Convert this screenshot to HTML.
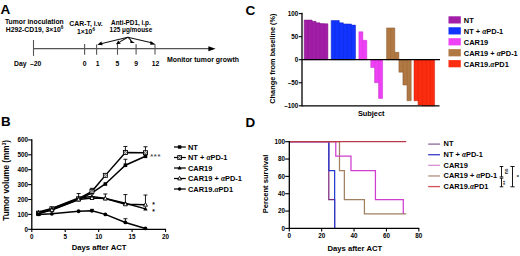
<!DOCTYPE html>
<html><head><meta charset="utf-8"><style>
html,body{margin:0;padding:0;background:#fff;}
body{width:520px;height:256px;overflow:hidden;}
svg{display:block;font-family:"Liberation Sans", sans-serif;}
</style></head><body>
<svg width="520" height="256" viewBox="0 0 520 256" font-family='"Liberation Sans", sans-serif' fill="#000">
<rect width="520" height="256" fill="#fff"/>
<text x="0.4" y="14.2" font-size="13.6" text-anchor="start" font-weight="bold" >A</text>
<text x="0.9" y="126.3" font-size="13.4" text-anchor="start" font-weight="bold" >B</text>
<text x="245.4" y="14.6" font-size="13.6" text-anchor="start" font-weight="bold" >C</text>
<text x="245.4" y="126.5" font-size="13.4" text-anchor="start" font-weight="bold" >D</text>
<text x="34.3" y="24.4" font-size="6.8" text-anchor="middle" font-weight="bold" >Tumor inoculation</text>
<text x="34.6" y="31.9" font-size="6.8" text-anchor="middle" font-weight="bold" >H292-CD19, 3×10<tspan font-size="4.6" dy="-2.5">6</tspan></text>
<text x="86.0" y="25.9" font-size="6.9" text-anchor="middle" font-weight="bold" >CAR-T, i.v.</text>
<text x="86.0" y="33.6" font-size="6.8" text-anchor="middle" font-weight="bold" >1×10<tspan font-size="4.6" dy="-2.5">6</tspan></text>
<text x="130.9" y="24.5" font-size="6.4" text-anchor="middle" font-weight="bold" >Anti-PD1, i.p.</text>
<text x="130.9" y="32.1" font-size="6.4" text-anchor="middle" font-weight="bold" >125 μg/mouse</text>
<line x1="33.5" y1="48.6" x2="210" y2="48.6" stroke="#555" stroke-width="1.3" />
<polygon points="208.4,46.3 215.6,48.8 208.4,51.3" fill="#000"/>
<line x1="33.5" y1="40.0" x2="33.5" y2="55.9" stroke="#555" stroke-width="1.1" />
<line x1="84.6" y1="44.0" x2="84.6" y2="54.8" stroke="#555" stroke-width="1.1" />
<line x1="96.6" y1="44.4" x2="96.6" y2="54.8" stroke="#555" stroke-width="1.1" />
<line x1="117.5" y1="43.4" x2="117.5" y2="54.8" stroke="#555" stroke-width="1.1" />
<line x1="136.1" y1="44.3" x2="136.1" y2="54.6" stroke="#555" stroke-width="1.1" />
<line x1="155.0" y1="44.4" x2="155.0" y2="54.6" stroke="#555" stroke-width="1.1" />
<line x1="127.8" y1="37.2" x2="101.9" y2="43.5" stroke="#111" stroke-width="1.1" />
<line x1="127.8" y1="37.2" x2="119.8" y2="41.9" stroke="#111" stroke-width="1.1" />
<line x1="127.8" y1="37.2" x2="131.3" y2="40.7" stroke="#111" stroke-width="1.1" />
<line x1="127.8" y1="37.2" x2="151.5" y2="42.8" stroke="#111" stroke-width="1.1" />
<polygon points="97.3,44.8 101.3,41.5 102.7,45.3" fill="#000"/>
<polygon points="115.9,44.3 118.4,40.5 120.8,43.8" fill="#000"/>
<polygon points="130.1,39.7 130.5,42.9 134.8,42.9" fill="#000"/>
<polygon points="150.5,41.0 150.2,44.7 155.7,44.4" fill="#000"/>
<text x="26.5" y="66.2" font-size="6.8" text-anchor="end" font-weight="bold" >Day</text>
<text x="30.0" y="66.2" font-size="6.8" text-anchor="start" font-weight="bold" >–20</text>
<text x="84.65" y="66.2" font-size="6.8" text-anchor="middle" font-weight="bold" >0</text>
<text x="97.6" y="66.2" font-size="6.8" text-anchor="middle" font-weight="bold" >1</text>
<text x="117.5" y="66.2" font-size="6.8" text-anchor="middle" font-weight="bold" >5</text>
<text x="136.2" y="66.2" font-size="6.8" text-anchor="middle" font-weight="bold" >9</text>
<text x="155.6" y="66.2" font-size="6.8" text-anchor="middle" font-weight="bold" >12</text>
<text x="166.9" y="62.1" font-size="6.95" text-anchor="start" font-weight="bold" >Monitor tumor growth</text>
<line x1="302.0" y1="12.8" x2="302.0" y2="106.4" stroke="#000" stroke-width="1.3" />
<line x1="298.8" y1="13.600000000000001" x2="302.0" y2="13.600000000000001" stroke="#000" stroke-width="1.1" />
<text x="298.3" y="15.900000000000002" font-size="6.3" text-anchor="end" font-weight="bold" >100</text>
<line x1="298.8" y1="36.650000000000006" x2="302.0" y2="36.650000000000006" stroke="#000" stroke-width="1.1" />
<text x="298.3" y="38.95" font-size="6.3" text-anchor="end" font-weight="bold" >50</text>
<line x1="298.8" y1="59.7" x2="302.0" y2="59.7" stroke="#000" stroke-width="1.1" />
<text x="298.3" y="62.0" font-size="6.3" text-anchor="end" font-weight="bold" >0</text>
<line x1="298.8" y1="82.75" x2="302.0" y2="82.75" stroke="#000" stroke-width="1.1" />
<text x="298.3" y="85.05" font-size="6.3" text-anchor="end" font-weight="bold" >–50</text>
<line x1="298.8" y1="105.80000000000001" x2="302.0" y2="105.80000000000001" stroke="#000" stroke-width="1.1" />
<text x="298.3" y="108.10000000000001" font-size="6.3" text-anchor="end" font-weight="bold" >–100</text>
<polygon points="304.20,59.70 304.20,20.05 308.15,20.05 308.15,20.05 312.10,20.05 312.10,21.30 316.05,21.30 316.05,22.82 320.00,22.82 320.00,23.56 323.95,23.56 323.95,23.74 327.90,23.74 327.90,59.70" fill="#a21ea6" stroke="#7a1080" stroke-width="0.5" stroke-linejoin="miter"/>
<line x1="308.15" y1="59.7" x2="308.15" y2="20.054000000000002" stroke="#7a1080" stroke-width="0.5" stroke-opacity="0.5"/>
<line x1="312.1" y1="59.7" x2="312.1" y2="21.298700000000004" stroke="#7a1080" stroke-width="0.5" stroke-opacity="0.5"/>
<line x1="316.05" y1="59.7" x2="316.05" y2="22.82" stroke="#7a1080" stroke-width="0.5" stroke-opacity="0.5"/>
<line x1="320.0" y1="59.7" x2="320.0" y2="23.5576" stroke="#7a1080" stroke-width="0.5" stroke-opacity="0.5"/>
<line x1="323.95" y1="59.7" x2="323.95" y2="23.742000000000004" stroke="#7a1080" stroke-width="0.5" stroke-opacity="0.5"/>
<polygon points="331.20,59.70 331.20,20.52 335.25,20.52 335.25,20.52 339.30,20.52 339.30,22.82 343.35,22.82 343.35,23.93 347.40,23.93 347.40,24.02 351.45,24.02 351.45,25.12 355.50,25.12 355.50,59.70" fill="#1234ff" stroke="#0a20c0" stroke-width="0.5" stroke-linejoin="miter"/>
<line x1="335.25" y1="59.7" x2="335.25" y2="20.515" stroke="#0a20c0" stroke-width="0.5" stroke-opacity="0.5"/>
<line x1="339.3" y1="59.7" x2="339.3" y2="22.82" stroke="#0a20c0" stroke-width="0.5" stroke-opacity="0.5"/>
<line x1="343.35" y1="59.7" x2="343.35" y2="23.9264" stroke="#0a20c0" stroke-width="0.5" stroke-opacity="0.5"/>
<line x1="347.4" y1="59.7" x2="347.4" y2="24.0186" stroke="#0a20c0" stroke-width="0.5" stroke-opacity="0.5"/>
<line x1="351.45" y1="59.7" x2="351.45" y2="25.125" stroke="#0a20c0" stroke-width="0.5" stroke-opacity="0.5"/>
<polygon points="358.90,59.70 358.90,31.81 362.85,31.81 362.85,40.34 366.80,40.34 366.80,59.70" fill="#ee40f4" stroke="#c830d0" stroke-width="0.5" stroke-linejoin="miter"/>
<line x1="362.85" y1="59.7" x2="362.85" y2="40.338" stroke="#c830d0" stroke-width="0.5" stroke-opacity="0.5"/>
<polygon points="370.75,59.70 370.75,67.54 374.70,67.54 374.70,82.75 378.65,82.75 378.65,98.42 382.60,98.42 382.60,59.70" fill="#ee40f4" stroke="#c830d0" stroke-width="0.5" stroke-linejoin="miter"/>
<line x1="374.7" y1="59.7" x2="374.7" y2="82.75" stroke="#c830d0" stroke-width="0.5" stroke-opacity="0.5"/>
<line x1="378.65" y1="59.7" x2="378.65" y2="98.424" stroke="#c830d0" stroke-width="0.5" stroke-opacity="0.5"/>
<polygon points="386.60,59.70 386.60,27.89 390.70,27.89 390.70,27.89 394.80,27.89 394.80,52.32 398.90,52.32 398.90,59.70" fill="#b07842" stroke="#8a5a30" stroke-width="0.5" stroke-linejoin="miter"/>
<line x1="390.7" y1="59.7" x2="390.7" y2="27.891000000000002" stroke="#8a5a30" stroke-width="0.5" stroke-opacity="0.5"/>
<line x1="394.8" y1="59.7" x2="394.8" y2="52.324000000000005" stroke="#8a5a30" stroke-width="0.5" stroke-opacity="0.5"/>
<polygon points="398.90,59.70 398.90,72.15 403.00,72.15 403.00,85.06 407.10,85.06 407.10,100.73 411.20,100.73 411.20,59.70" fill="#b07842" stroke="#8a5a30" stroke-width="0.5" stroke-linejoin="miter"/>
<line x1="403.0" y1="59.7" x2="403.0" y2="85.055" stroke="#8a5a30" stroke-width="0.5" stroke-opacity="0.5"/>
<line x1="407.1" y1="59.7" x2="407.1" y2="100.72900000000001" stroke="#8a5a30" stroke-width="0.5" stroke-opacity="0.5"/>
<polygon points="414.00,59.70 414.00,100.73 418.12,100.73 418.12,104.88 422.24,104.88 422.24,105.80 426.36,105.80 426.36,105.80 430.48,105.80 430.48,105.80 434.60,105.80 434.60,59.70" fill="#fb2c10" stroke="#c82008" stroke-width="0.5" stroke-linejoin="miter"/>
<line x1="418.12" y1="59.7" x2="418.12" y2="104.87800000000001" stroke="#c82008" stroke-width="0.5" stroke-opacity="0.5"/>
<line x1="422.24" y1="59.7" x2="422.24" y2="105.80000000000001" stroke="#c82008" stroke-width="0.5" stroke-opacity="0.5"/>
<line x1="426.36" y1="59.7" x2="426.36" y2="105.80000000000001" stroke="#c82008" stroke-width="0.5" stroke-opacity="0.5"/>
<line x1="430.48" y1="59.7" x2="430.48" y2="105.80000000000001" stroke="#c82008" stroke-width="0.5" stroke-opacity="0.5"/>
<line x1="302.0" y1="59.7" x2="440" y2="59.7" stroke="#000" stroke-width="1.3" />
<line x1="302.0" y1="105.80000000000001" x2="439.5" y2="105.80000000000001" stroke="#000" stroke-width="1.3" />
<text x="371.2" y="115.6" font-size="7.35" text-anchor="middle" font-weight="bold" >Subject</text>
<text transform="translate(274.8,58.6) rotate(-90)" font-size="7.35" text-anchor="middle" font-weight="bold">Change from baseline (%)</text>
<rect x="448.5" y="16.3" width="12.3" height="7.2" fill="#a21ea6"/>
<text x="463.8" y="22.8" font-size="7.45" text-anchor="start" font-weight="bold" >NT</text>
<rect x="448.5" y="27.25" width="12.3" height="7.2" fill="#1234ff"/>
<text x="463.8" y="33.75" font-size="7.45" text-anchor="start" font-weight="bold" >NT + <tspan font-family="Liberation Serif" font-style="italic" font-weight="bold">α</tspan>PD-1</text>
<rect x="448.5" y="38.2" width="12.3" height="7.2" fill="#ee40f4"/>
<text x="463.8" y="44.7" font-size="7.45" text-anchor="start" font-weight="bold" >CAR19</text>
<rect x="448.5" y="49.14999999999999" width="12.3" height="7.2" fill="#b07842"/>
<text x="463.8" y="55.64999999999999" font-size="7.45" text-anchor="start" font-weight="bold" >CAR19 + <tspan font-family="Liberation Serif" font-style="italic" font-weight="bold">α</tspan>PD-1</text>
<rect x="448.5" y="60.099999999999994" width="12.3" height="7.2" fill="#fb2c10"/>
<text x="463.8" y="66.6" font-size="7.45" text-anchor="start" font-weight="bold" >CAR19.<tspan font-family="Liberation Serif" font-style="italic" font-weight="bold">α</tspan>PD1</text>
<line x1="31.8" y1="139.3" x2="31.8" y2="229.9" stroke="#000" stroke-width="1.3" />
<line x1="31.2" y1="229.3" x2="166.0" y2="229.3" stroke="#000" stroke-width="1.3" />
<line x1="28.2" y1="229.3" x2="31.8" y2="229.3" stroke="#000" stroke-width="1.1" />
<text x="27.9" y="231.5" font-size="6.3" text-anchor="end" font-weight="bold" >0</text>
<line x1="28.2" y1="214.4" x2="31.8" y2="214.4" stroke="#000" stroke-width="1.1" />
<text x="27.9" y="216.6" font-size="6.3" text-anchor="end" font-weight="bold" >100</text>
<line x1="28.2" y1="199.5" x2="31.8" y2="199.5" stroke="#000" stroke-width="1.1" />
<text x="27.9" y="201.7" font-size="6.3" text-anchor="end" font-weight="bold" >200</text>
<line x1="28.2" y1="184.60000000000002" x2="31.8" y2="184.60000000000002" stroke="#000" stroke-width="1.1" />
<text x="27.9" y="186.8" font-size="6.3" text-anchor="end" font-weight="bold" >300</text>
<line x1="28.2" y1="169.70000000000002" x2="31.8" y2="169.70000000000002" stroke="#000" stroke-width="1.1" />
<text x="27.9" y="171.9" font-size="6.3" text-anchor="end" font-weight="bold" >400</text>
<line x1="28.2" y1="154.8" x2="31.8" y2="154.8" stroke="#000" stroke-width="1.1" />
<text x="27.9" y="157.0" font-size="6.3" text-anchor="end" font-weight="bold" >500</text>
<line x1="28.2" y1="139.90000000000003" x2="31.8" y2="139.90000000000003" stroke="#000" stroke-width="1.1" />
<text x="27.9" y="142.10000000000002" font-size="6.3" text-anchor="end" font-weight="bold" >600</text>
<line x1="31.8" y1="229.3" x2="31.8" y2="232.0" stroke="#000" stroke-width="1.1" />
<text x="31.8" y="238.9" font-size="6.3" text-anchor="middle" font-weight="bold" >0</text>
<line x1="65.23" y1="229.3" x2="65.23" y2="232.0" stroke="#000" stroke-width="1.1" />
<text x="65.23" y="238.9" font-size="6.3" text-anchor="middle" font-weight="bold" >5</text>
<line x1="98.66" y1="229.3" x2="98.66" y2="232.0" stroke="#000" stroke-width="1.1" />
<text x="98.66" y="238.9" font-size="6.3" text-anchor="middle" font-weight="bold" >10</text>
<line x1="132.09" y1="229.3" x2="132.09" y2="232.0" stroke="#000" stroke-width="1.1" />
<text x="132.09" y="238.9" font-size="6.3" text-anchor="middle" font-weight="bold" >15</text>
<line x1="165.52" y1="229.3" x2="165.52" y2="232.0" stroke="#000" stroke-width="1.1" />
<text x="165.52" y="238.9" font-size="6.3" text-anchor="middle" font-weight="bold" >20</text>
<text x="99.1" y="250.1" font-size="7.7" text-anchor="middle" font-weight="bold" >Days after ACT</text>
<text transform="translate(8.6,180.4) rotate(-90)" font-size="8.2" text-anchor="middle" font-weight="bold">Tumor volume (mm<tspan font-size="4.6" dy="-2.8">3</tspan><tspan dy="2.8">)</tspan></text>
<polyline points="38.49,213.80 51.86,209.63 78.60,199.50 91.97,192.80 105.35,184.00 125.40,165.23 145.46,156.29" fill="none" stroke="#000" stroke-width="1.5"/>
<line x1="125.404" y1="165.23000000000002" x2="125.404" y2="159.27" stroke="#000" stroke-width="0.9" />
<line x1="123.404" y1="159.27" x2="127.404" y2="159.27" stroke="#000" stroke-width="0.9" />
<polyline points="38.49,213.21 51.86,208.74 78.60,198.76 91.97,191.31 105.35,175.36 125.40,152.42 145.46,152.71" fill="none" stroke="#000" stroke-width="1.5"/>
<line x1="91.974" y1="191.305" x2="91.974" y2="188.32500000000002" stroke="#000" stroke-width="0.9" />
<line x1="89.974" y1="188.32500000000002" x2="93.974" y2="188.32500000000002" stroke="#000" stroke-width="0.9" />
<line x1="125.404" y1="152.416" x2="125.404" y2="146.45600000000002" stroke="#000" stroke-width="0.9" />
<line x1="123.404" y1="146.45600000000002" x2="127.404" y2="146.45600000000002" stroke="#000" stroke-width="0.9" />
<line x1="145.46200000000002" y1="152.714" x2="145.46200000000002" y2="146.75400000000002" stroke="#000" stroke-width="0.9" />
<line x1="143.46200000000002" y1="146.75400000000002" x2="147.46200000000002" y2="146.75400000000002" stroke="#000" stroke-width="0.9" />
<polyline points="38.49,212.02 51.86,208.44 78.60,198.01 91.97,196.52 105.35,198.61 125.40,203.23 145.46,208.89" fill="none" stroke="#000" stroke-width="1.5"/>
<line x1="78.602" y1="198.01000000000002" x2="78.602" y2="193.54000000000002" stroke="#000" stroke-width="0.9" />
<line x1="76.602" y1="193.54000000000002" x2="80.602" y2="193.54000000000002" stroke="#000" stroke-width="0.9" />
<polyline points="38.49,213.21 51.86,209.93 78.60,199.50 91.97,198.01 105.35,198.46 125.40,204.27 145.46,204.72" fill="none" stroke="#000" stroke-width="1.5"/>
<line x1="105.34599999999999" y1="198.45700000000002" x2="105.34599999999999" y2="193.98700000000002" stroke="#000" stroke-width="0.9" />
<line x1="103.34599999999999" y1="193.98700000000002" x2="107.34599999999999" y2="193.98700000000002" stroke="#000" stroke-width="0.9" />
<line x1="125.404" y1="204.268" x2="125.404" y2="194.58300000000003" stroke="#000" stroke-width="0.9" />
<line x1="123.404" y1="194.58300000000003" x2="127.404" y2="194.58300000000003" stroke="#000" stroke-width="0.9" />
<line x1="145.46200000000002" y1="204.715" x2="145.46200000000002" y2="195.03000000000003" stroke="#000" stroke-width="0.9" />
<line x1="143.46200000000002" y1="195.03000000000003" x2="147.46200000000002" y2="195.03000000000003" stroke="#000" stroke-width="0.9" />
<polyline points="38.49,214.40 51.86,213.80 78.60,211.27 91.97,210.82 105.35,214.40 125.40,222.45 145.46,228.41" fill="none" stroke="#000" stroke-width="1.5"/>
<line x1="91.974" y1="210.824" x2="91.974" y2="209.334" stroke="#000" stroke-width="0.9" />
<line x1="89.974" y1="209.334" x2="93.974" y2="209.334" stroke="#000" stroke-width="0.9" />
<line x1="125.404" y1="222.446" x2="125.404" y2="218.721" stroke="#000" stroke-width="0.9" />
<line x1="123.404" y1="218.721" x2="127.404" y2="218.721" stroke="#000" stroke-width="0.9" />
<rect x="36.69" y="212.0" width="3.6" height="3.6" fill="#000"/>
<rect x="50.06" y="207.83" width="3.6" height="3.6" fill="#000"/>
<rect x="76.8" y="197.7" width="3.6" height="3.6" fill="#000"/>
<rect x="90.17" y="191.0" width="3.6" height="3.6" fill="#000"/>
<rect x="103.55" y="182.2" width="3.6" height="3.6" fill="#000"/>
<rect x="123.6" y="163.43" width="3.6" height="3.6" fill="#000"/>
<rect x="143.66" y="154.49" width="3.6" height="3.6" fill="#000"/>
<rect x="36.49" y="211.21" width="4.00" height="4.00" fill="#fff" stroke="#000" stroke-width="0.9"/>
<circle cx="38.49" cy="213.21" r="1.00" fill="none" stroke="#000" stroke-width="0.6"/>
<rect x="49.86" y="206.74" width="4.00" height="4.00" fill="#fff" stroke="#000" stroke-width="0.9"/>
<circle cx="51.86" cy="208.74" r="1.00" fill="none" stroke="#000" stroke-width="0.6"/>
<rect x="76.60" y="196.76" width="4.00" height="4.00" fill="#fff" stroke="#000" stroke-width="0.9"/>
<circle cx="78.60" cy="198.76" r="1.00" fill="none" stroke="#000" stroke-width="0.6"/>
<rect x="89.97" y="189.31" width="4.00" height="4.00" fill="#fff" stroke="#000" stroke-width="0.9"/>
<circle cx="91.97" cy="191.31" r="1.00" fill="none" stroke="#000" stroke-width="0.6"/>
<rect x="103.35" y="173.36" width="4.00" height="4.00" fill="#fff" stroke="#000" stroke-width="0.9"/>
<circle cx="105.35" cy="175.36" r="1.00" fill="none" stroke="#000" stroke-width="0.6"/>
<rect x="123.40" y="150.42" width="4.00" height="4.00" fill="#fff" stroke="#000" stroke-width="0.9"/>
<circle cx="125.40" cy="152.42" r="1.00" fill="none" stroke="#000" stroke-width="0.6"/>
<rect x="143.46" y="150.71" width="4.00" height="4.00" fill="#fff" stroke="#000" stroke-width="0.9"/>
<circle cx="145.46" cy="152.71" r="1.00" fill="none" stroke="#000" stroke-width="0.6"/>
<polygon points="38.49,209.72 40.69,213.62 36.29,213.62" fill="#000"/>
<polygon points="51.86,206.14 54.06,210.04 49.66,210.04" fill="#000"/>
<polygon points="78.60,195.71 80.80,199.61 76.40,199.61" fill="#000"/>
<polygon points="91.97,194.22 94.17,198.12 89.77,198.12" fill="#000"/>
<polygon points="105.35,196.31 107.55,200.21 103.15,200.21" fill="#000"/>
<polygon points="125.40,200.93 127.60,204.83 123.20,204.83" fill="#000"/>
<polygon points="145.46,206.59 147.66,210.49 143.26,210.49" fill="#000"/>
<polygon points="38.49,211.01 40.49,214.71 36.49,214.71" fill="#fff" stroke="#000" stroke-width="0.9"/>
<polygon points="51.86,207.73 53.86,211.43 49.86,211.43" fill="#fff" stroke="#000" stroke-width="0.9"/>
<polygon points="78.60,197.30 80.60,201.00 76.60,201.00" fill="#fff" stroke="#000" stroke-width="0.9"/>
<polygon points="91.97,195.81 93.97,199.51 89.97,199.51" fill="#fff" stroke="#000" stroke-width="0.9"/>
<polygon points="105.35,196.26 107.35,199.96 103.35,199.96" fill="#fff" stroke="#000" stroke-width="0.9"/>
<polygon points="125.40,202.07 127.40,205.77 123.40,205.77" fill="#fff" stroke="#000" stroke-width="0.9"/>
<polygon points="145.46,202.52 147.46,206.22 143.46,206.22" fill="#fff" stroke="#000" stroke-width="0.9"/>
<circle cx="38.49" cy="214.40" r="1.90" fill="#000"/>
<circle cx="51.86" cy="213.80" r="1.90" fill="#000"/>
<circle cx="78.60" cy="211.27" r="1.90" fill="#000"/>
<circle cx="91.97" cy="210.82" r="1.90" fill="#000"/>
<circle cx="105.35" cy="214.40" r="1.90" fill="#000"/>
<circle cx="125.40" cy="222.45" r="1.90" fill="#000"/>
<circle cx="145.46" cy="228.41" r="1.90" fill="#000"/>
<text x="155.6" y="159.4" font-size="7.5" text-anchor="middle" font-weight="bold" fill="#555" letter-spacing="0.7">***</text>
<text x="153.4" y="207.0" font-size="6.5" text-anchor="middle" font-weight="bold" >*</text>
<text x="153.4" y="213.8" font-size="6.5" text-anchor="middle" font-weight="bold" >*</text>
<line x1="174.0" y1="147.0" x2="185.8" y2="147.0" stroke="#000" stroke-width="1.25" />
<rect x="177.89" y="145.29" width="3.42" height="3.42" fill="#000"/>
<text x="188.0" y="149.6" font-size="7.45" text-anchor="start" font-weight="bold" >NT</text>
<line x1="174.0" y1="157.5" x2="185.8" y2="157.5" stroke="#000" stroke-width="1.25" />
<rect x="177.70" y="155.60" width="3.80" height="3.80" fill="#fff" stroke="#000" stroke-width="0.9"/>
<circle cx="179.60" cy="157.50" r="0.95" fill="none" stroke="#000" stroke-width="0.6"/>
<text x="188.0" y="160.1" font-size="7.45" text-anchor="start" font-weight="bold" >NT + <tspan font-family="Liberation Serif" font-style="italic" font-weight="bold">α</tspan>PD-1</text>
<line x1="174.0" y1="168.0" x2="185.8" y2="168.0" stroke="#000" stroke-width="1.25" />
<polygon points="179.60,165.81 181.69,169.52 177.51,169.52" fill="#000"/>
<text x="188.0" y="170.6" font-size="7.45" text-anchor="start" font-weight="bold" >CAR19</text>
<line x1="174.0" y1="178.5" x2="185.8" y2="178.5" stroke="#000" stroke-width="1.25" />
<polygon points="179.60,176.41 181.50,179.93 177.70,179.93" fill="#fff" stroke="#000" stroke-width="0.9"/>
<text x="188.0" y="181.1" font-size="7.45" text-anchor="start" font-weight="bold" >CAR19 + <tspan font-family="Liberation Serif" font-style="italic" font-weight="bold">α</tspan>PD-1</text>
<line x1="174.0" y1="189.0" x2="185.8" y2="189.0" stroke="#000" stroke-width="1.25" />
<circle cx="179.60" cy="189.00" r="1.80" fill="#000"/>
<text x="188.0" y="191.6" font-size="7.45" text-anchor="start" font-weight="bold" >CAR19.<tspan font-family="Liberation Serif" font-style="italic" font-weight="bold">α</tspan>PD1</text>
<path d="M289.30,141.70 L328.80,141.70 L328.80,199.50 L334.63,199.50 L334.63,228.40" fill="none" stroke="#7a2a7c" stroke-width="1.25"/>
<path d="M289.30,141.70 L328.80,141.70 L328.80,170.60 L334.63,170.60 L334.63,228.40" fill="none" stroke="#2a3cd0" stroke-width="1.25"/>
<path d="M289.30,141.70 L339.49,141.70 L339.49,170.60 L344.35,170.60 L344.35,199.50 L364.42,199.50 L364.42,213.95 L406.19,213.95" fill="none" stroke="#a08060" stroke-width="1.25"/>
<path d="M289.30,141.70 L335.77,141.70 L335.77,156.15 L350.98,156.15 L350.98,170.60 L375.43,170.60 L375.43,199.50 L403.28,199.50 L403.28,213.95" fill="none" stroke="#d03ed0" stroke-width="1.25"/>
<path d="M289.30,141.70 L406.19,141.70" fill="none" stroke="#b83a48" stroke-width="1.25"/>
<line x1="289.3" y1="141.0" x2="289.3" y2="229.0" stroke="#000" stroke-width="1.3" />
<line x1="288.7" y1="228.4" x2="419.32000000000005" y2="228.4" stroke="#000" stroke-width="1.3" />
<line x1="285.2" y1="228.4" x2="289.3" y2="228.4" stroke="#000" stroke-width="1.1" />
<text x="284.9" y="230.6" font-size="6.3" text-anchor="end" font-weight="bold" >0</text>
<line x1="285.2" y1="211.06" x2="289.3" y2="211.06" stroke="#000" stroke-width="1.1" />
<text x="284.9" y="213.26" font-size="6.3" text-anchor="end" font-weight="bold" >20</text>
<line x1="285.2" y1="193.72" x2="289.3" y2="193.72" stroke="#000" stroke-width="1.1" />
<text x="284.9" y="195.92" font-size="6.3" text-anchor="end" font-weight="bold" >40</text>
<line x1="285.2" y1="176.38" x2="289.3" y2="176.38" stroke="#000" stroke-width="1.1" />
<text x="284.9" y="178.57999999999998" font-size="6.3" text-anchor="end" font-weight="bold" >60</text>
<line x1="285.2" y1="159.04000000000002" x2="289.3" y2="159.04000000000002" stroke="#000" stroke-width="1.1" />
<text x="284.9" y="161.24" font-size="6.3" text-anchor="end" font-weight="bold" >80</text>
<line x1="285.2" y1="141.7" x2="289.3" y2="141.7" stroke="#000" stroke-width="1.1" />
<text x="284.9" y="143.89999999999998" font-size="6.3" text-anchor="end" font-weight="bold" >100</text>
<line x1="289.3" y1="228.4" x2="289.3" y2="231.4" stroke="#000" stroke-width="1.1" />
<text x="289.3" y="238.4" font-size="6.3" text-anchor="middle" font-weight="bold" >0</text>
<line x1="321.68" y1="228.4" x2="321.68" y2="231.4" stroke="#000" stroke-width="1.1" />
<text x="321.68" y="238.4" font-size="6.3" text-anchor="middle" font-weight="bold" >20</text>
<line x1="354.06" y1="228.4" x2="354.06" y2="231.4" stroke="#000" stroke-width="1.1" />
<text x="354.06" y="238.4" font-size="6.3" text-anchor="middle" font-weight="bold" >40</text>
<line x1="386.44" y1="228.4" x2="386.44" y2="231.4" stroke="#000" stroke-width="1.1" />
<text x="386.44" y="238.4" font-size="6.3" text-anchor="middle" font-weight="bold" >60</text>
<line x1="418.82000000000005" y1="228.4" x2="418.82000000000005" y2="231.4" stroke="#000" stroke-width="1.1" />
<text x="418.82000000000005" y="238.4" font-size="6.3" text-anchor="middle" font-weight="bold" >80</text>
<text x="354.8" y="250.6" font-size="7.7" text-anchor="middle" font-weight="bold" >Days after ACT</text>
<text transform="translate(268.2,183.9) rotate(-90)" font-size="7.6" text-anchor="middle" font-weight="bold">Percent survival</text>
<line x1="428.2" y1="144.1" x2="440.0" y2="144.1" stroke="#8a6898" stroke-width="1.3" />
<text x="443.6" y="146.29999999999998" font-size="7.4" text-anchor="start" font-weight="bold" >NT</text>
<line x1="428.2" y1="154.72" x2="440.0" y2="154.72" stroke="#3a3ac8" stroke-width="1.3" />
<text x="443.6" y="156.92" font-size="7.4" text-anchor="start" font-weight="bold" >NT + <tspan font-family="Liberation Serif" font-style="italic" font-weight="bold">α</tspan>PD-1</text>
<line x1="428.2" y1="165.34" x2="440.0" y2="165.34" stroke="#d890d8" stroke-width="1.3" />
<text x="443.6" y="167.54" font-size="7.4" text-anchor="start" font-weight="bold" >CAR19</text>
<line x1="428.2" y1="175.95999999999998" x2="440.0" y2="175.95999999999998" stroke="#b09080" stroke-width="1.3" />
<text x="443.6" y="178.15999999999997" font-size="7.4" text-anchor="start" font-weight="bold" >CAR19 + <tspan font-family="Liberation Serif" font-style="italic" font-weight="bold">α</tspan>PD-1</text>
<line x1="428.2" y1="186.57999999999998" x2="440.0" y2="186.57999999999998" stroke="#d05058" stroke-width="1.3" />
<text x="443.6" y="188.77999999999997" font-size="7.4" text-anchor="start" font-weight="bold" >CAR19.<tspan font-family="Liberation Serif" font-style="italic" font-weight="bold">α</tspan>PD1</text>
<line x1="501.5" y1="166.5" x2="501.5" y2="176.9" stroke="#000" stroke-width="0.9" />
<line x1="499.7" y1="166.5" x2="503.3" y2="166.5" stroke="#000" stroke-width="0.9" />
<line x1="499.7" y1="176.9" x2="503.3" y2="176.9" stroke="#000" stroke-width="0.9" />
<line x1="501.5" y1="178.2" x2="501.5" y2="186.8" stroke="#000" stroke-width="0.9" />
<line x1="499.7" y1="178.2" x2="503.3" y2="178.2" stroke="#000" stroke-width="0.9" />
<line x1="499.7" y1="186.8" x2="503.3" y2="186.8" stroke="#000" stroke-width="0.9" />
<line x1="512.5" y1="166.5" x2="512.5" y2="186.8" stroke="#000" stroke-width="0.9" />
<line x1="510.4" y1="166.5" x2="514.6" y2="166.5" stroke="#000" stroke-width="0.9" />
<line x1="510.4" y1="186.8" x2="514.6" y2="186.8" stroke="#000" stroke-width="0.9" />
<text transform="translate(507.6,171.4) rotate(-90)" font-size="5.0" text-anchor="middle" font-weight="bold" fill="#333">ns</text>
<text transform="translate(507.4,182.8) rotate(-90)" font-size="5.6" text-anchor="middle" font-weight="bold" fill="#333">**</text>
<text x="517.8" y="179.2" font-size="5.6" text-anchor="middle" font-weight="bold" >*</text>
</svg>
</body></html>
